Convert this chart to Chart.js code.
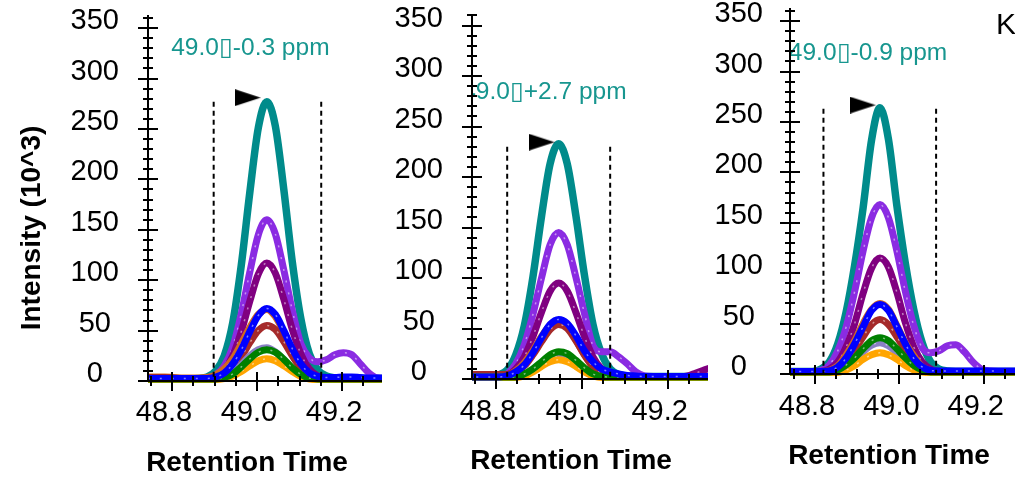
<!DOCTYPE html>
<html>
<head>
<meta charset="utf-8">
<script src="https://cdn.jsdelivr.net/npm/chart.js@4.4.1/dist/chart.umd.min.js"></script>
<style>
  html, body { margin: 0; background: #fff; overflow: hidden; }
  canvas { position: absolute; top: 0; }
</style>
</head>
<body>
<canvas id="panelA" width="382" height="479" style="left:0"></canvas>
<canvas id="panelB" width="326" height="479" style="left:382px"></canvas>
<canvas id="panelC" width="307" height="479" style="left:708px"></canvas>
<script>
// tick labels
const yMajor = [0, 50, 100, 150, 200, 250, 300, 350];
const xMajor = [48.8, 49.0, 49.2];
const yMinorStep = 10;
const xMinorStep = 0.05;

// series drawn top -> bottom
const seriesNames = ["blue", "green", "orange", "lavender", "brown", "chocolate", "darkPurple", "violet", "teal"];
const seriesColors = ["#0000ff", "#008000", "#ffa500", "#8a80c4", "#a52a2a", "#d2691e", "#800080", "#8a2be2", "#008b8b"];

// panel A
const rtA = [48.723, 48.743, 48.763, 48.783, 48.803, 48.823, 48.843, 48.863, 48.883, 48.903, 48.923, 48.943, 48.963, 48.983, 49.003, 49.023, 49.043, 49.063, 49.083, 49.103, 49.123, 49.143, 49.163, 49.183, 49.203, 49.223, 49.243, 49.263, 49.283, 49.303];
const tealA = [2, 2, 2, 2, 2, 2, 2, 2.5, 4, 10, 25, 58, 115, 187, 251, 277, 253, 190, 118, 62, 27, 11, 5, 3, 2.5, 2.5, 2.5, 2.5, 2.5, 2.5];
const violetA = [2, 2, 2, 2, 2, 2, 2, 2, 3, 6, 15, 34, 67, 108, 145, 160, 146, 110, 70, 37, 23, 19, 21, 26, 28, 26, 17, 8, 3, 2.5];
const darkPurpleA = [2, 2, 2, 2, 2, 2, 2, 2, 2.5, 5, 11, 25, 49, 79, 106, 117, 107, 81, 51, 27, 12, 5, 2.5, 2, 2, 2, 2, 2, 2, 2];
const chocolateA = [4, 4, 4, 4, 3.5, 3, 3, 3, 3.5, 6, 12, 22, 37, 53, 66, 71, 64, 48, 29, 15, 6, 3, 2.5, 2.5, 2.5, 2.5, 2.5, 2.5, 2.5, 2.5];
const brownA = [3.5, 3.5, 3.5, 3.5, 3, 2.5, 2, 2, 2.5, 3.5, 6, 12.5, 24, 38, 50, 55, 51, 39, 25, 13, 6, 3, 2, 2, 2, 2, 2, 2, 2, 2];
const lavenderA = [2, 2, 2, 2, 2, 2, 2, 2, 2, 2.5, 4.5, 9, 16, 25, 31, 33, 29, 21, 12, 6, 3, 2, 2, 2, 2, 2, 2, 2, 2, 2];
const greenA = [2, 2, 2, 2, 2, 2, 2, 2, 2, 2, 3.5, 7, 14, 22, 28.5, 31, 28.5, 21.5, 13, 6.5, 3, 2, 2, 2, 2, 2, 2, 2, 2, 2];
const orangeA = [1.5, 1.5, 1.5, 1.5, 1.5, 1.5, 1.5, 1.5, 1.5, 1.5, 2.5, 5, 9.5, 15, 20, 22, 20, 15, 9.5, 4.5, 2, 1.5, 1.5, 1.5, 1.5, 1.5, 1.5, 1.5, 1.5, 1.5];
const blueA = [2.5, 2.5, 2.5, 2.5, 2.5, 2.5, 2.5, 2.5, 2.5, 4, 8, 17, 31, 49, 65, 72, 66, 50, 32, 17, 8, 4.5, 3.5, 3.5, 4, 4, 3.5, 3, 3, 3];
const boundsA = [48.898, 49.151];
const apexA = [48.978, 281];
const ppmA = "49.0▯-0.3 ppm";

// panel B
const rtB = [48.726, 48.746, 48.766, 48.786, 48.806, 48.826, 48.846, 48.866, 48.886, 48.906, 48.926, 48.946, 48.966, 48.986, 49.006, 49.026, 49.046, 49.066, 49.086, 49.106, 49.126, 49.146, 49.166, 49.186, 49.206, 49.226, 49.246, 49.266, 49.286, 49.306];
const tealB = [2, 2, 2, 2, 4, 9, 24, 53, 101, 161, 213, 233, 213, 162, 103, 54, 25, 10, 4.5, 3, 2.5, 2.5, 2.5, 2.5, 2.5, 2.5, 2.5, 2.5, 2.5, 2.5];
const violetB = [2, 2, 2, 2, 2, 5, 15, 34, 64, 100, 133, 145, 133, 101, 65, 33, 27, 27, 22, 15, 7, 3, 2.5, 2.5, 2.5, 2.5, 2.5, 2.5, 2.5, 2.5];
const darkPurpleB = [2, 2, 2, 2, 2, 3.5, 10, 22, 42, 66, 87, 95, 87, 66, 42, 22, 10, 4, 2.5, 2, 2, 2, 2, 2, 2, 2, 3, 6, 9, 12];
const chocolateB = [2.5, 2.5, 2.5, 2.5, 2.5, 3.5, 8, 16, 28, 42, 53, 57, 52, 39, 24, 12, 5, 3, 2.5, 2.5, 2.5, 2.5, 2.5, 2.5, 2.5, 2.5, 2.5, 2.5, 2.5, 2.5];
const brownB = [4.5, 4.5, 4.5, 4.5, 4.5, 4.5, 7, 13, 24, 37, 49, 54, 50, 38, 24, 12, 5.5, 3, 2, 2, 2, 2, 2, 2, 2, 2, 2, 2, 2, 2];
const lavenderB = [2, 2, 2, 2, 2, 2, 2, 4, 8.5, 14.5, 20, 22, 20, 14.5, 8.5, 4, 2, 2, 2, 2, 2, 2, 2, 2, 2, 2, 2, 2, 2, 2];
const greenB = [2, 2, 2, 2, 2, 2, 2, 5, 10, 17, 24, 27, 25, 18.5, 11, 5, 2.5, 2, 2, 2, 2, 2, 2, 2, 2, 2, 2, 2, 2, 2];
const orangeB = [1.5, 1.5, 1.5, 1.5, 1.5, 1.5, 1.5, 3, 7, 12.5, 17, 19, 17, 12.5, 7, 3, 1.5, 1.5, 1.5, 1.5, 1.5, 1.5, 1.5, 1.5, 1.5, 1.5, 1.5, 1.5, 1.5, 1.5];
const blueB = [2, 2, 2, 2, 2, 3, 7, 14, 26, 41, 54, 59, 55, 43, 28, 17, 10, 7, 5, 3.5, 3, 2.5, 2.5, 2.5, 2.5, 2.5, 2.5, 2.5, 2.5, 2.5];
const boundsB = [48.826, 49.066];
const apexB = [48.906, 234.5];
const ppmB = "49.0▯+2.7 ppm";

// panel C
const rtC = [48.734, 48.754, 48.774, 48.794, 48.814, 48.834, 48.854, 48.874, 48.894, 48.914, 48.934, 48.954, 48.974, 48.994, 49.014, 49.034, 49.054, 49.074, 49.094, 49.114, 49.134, 49.154, 49.174, 49.194, 49.214, 49.234, 49.254, 49.274, 49.294, 49.314];
const tealC = [2.5, 2.5, 2.5, 2.5, 5, 12, 30, 62, 108, 165, 232, 264, 233, 167, 110, 64, 31, 12, 5, 3, 2.5, 2.5, 2.5, 2.5, 2.5, 2.5, 2.5, 2.5, 2.5, 2.5];
const violetC = [2.5, 2.5, 2.5, 2.5, 3.5, 9, 23, 47, 82, 122, 155, 168, 155, 122, 82, 48, 26, 21, 23, 28, 29, 22, 12, 5, 3, 2.5, 2.5, 2.5, 2.5, 2.5];
const darkPurpleC = [2.5, 2.5, 2.5, 2.5, 2.5, 5, 12, 27, 50, 80, 105, 115, 106, 81, 51, 27, 12, 5, 2.5, 2.5, 2.5, 2.5, 2.5, 2.5, 2.5, 2.5, 2.5, 2.5, 2.5, 2.5];
const chocolateC = [2.5, 2.5, 2.5, 2.5, 2.5, 3.5, 8, 19, 33, 50, 64, 70, 64, 48, 31, 18, 7, 3.5, 2.5, 2.5, 2.5, 2.5, 2.5, 2.5, 2.5, 2.5, 2.5, 2.5, 2.5, 2.5];
const brownC = [2, 2, 2, 2, 2, 3, 6, 13, 24, 37, 49, 54, 49, 37, 24, 13, 6, 3, 2, 2, 2, 2, 2, 2, 2, 2, 2, 2, 2, 2];
const lavenderC = [2, 2, 2, 2, 2, 2, 3.5, 7.5, 14, 22, 28.5, 31, 28, 21, 13, 6.5, 3, 2, 2, 2, 2, 2, 2, 2, 2, 2, 2, 2, 2, 2];
const greenC = [2, 2, 2, 2, 2, 2, 4, 9, 16, 25, 33, 36, 33, 25, 16, 8.5, 4, 2, 2, 2, 2, 2, 2, 2, 2, 2, 2, 2, 2, 2];
const orangeC = [1.5, 1.5, 1.5, 1.5, 1.5, 1.5, 1.5, 4, 8.5, 14.5, 19, 21, 19, 14.5, 8.5, 4, 2, 1.5, 1.5, 1.5, 1.5, 1.5, 1.5, 1.5, 1.5, 1.5, 1.5, 1.5, 1.5, 1.5];
const blueC = [2.5, 2.5, 2.5, 2.5, 2.5, 3, 7, 16, 30, 47, 63, 69, 63, 47, 30, 15.5, 7, 3.5, 3, 3, 3, 3, 3, 3, 3, 3, 3, 3, 3, 3];
const boundsC = [48.820, 49.087];
const apexC = [48.913, 266.7];
const ppmC = "49.0▯-0.9 ppm";

const FONT = "'Liberation Sans', Arial, sans-serif";
const TEXT_TEAL = "#17968f";

// black peak marker, pointing right
function peakArrow() {
  const c = document.createElement("canvas");
  c.width = 26;
  c.height = 17;
  const g = c.getContext("2d");
  g.fillStyle = "#000";
  g.beginPath();
  g.moveTo(0, 0);
  g.lineTo(26, 8.5);
  g.lineTo(0, 17);
  g.closePath();
  g.fill();
  return c;
}
const arrowImg = peakArrow();

// axis lines with ticks crossing the axis (Skyline style)
const crossAxes = {
  id: "crossAxes",
  afterDatasetsDraw(chart) {
    const { ctx, chartArea: a, scales: { x, y } } = chart;
    ctx.save();
    ctx.strokeStyle = "#000";
    ctx.lineWidth = 2;
    ctx.beginPath();
    ctx.moveTo(a.left, a.top);
    ctx.lineTo(a.left, a.bottom);
    ctx.lineTo(a.right, a.bottom);
    for (let v = 0; v <= y.max; v += yMinorStep) {
      const py = Math.round(y.getPixelForValue(v));
      const len = yMajor.includes(v) ? 10 : 5;
      ctx.moveTo(a.left - len, py);
      ctx.lineTo(a.left + len, py);
    }
    const first = Math.ceil(x.min / xMinorStep - 1e-9);
    const last = Math.floor(x.max / xMinorStep + 1e-9);
    for (let i = first; i <= last; i++) {
      const v = i * xMinorStep;
      const px = Math.round(x.getPixelForValue(v));
      const major = xMajor.some(m => Math.abs(m - v) < 1e-6);
      ctx.moveTo(px, a.bottom + (major ? 10 : 5));
      ctx.lineTo(px, a.bottom - (major ? 9 : 5));
    }
    ctx.stroke();
    ctx.restore();
  }
};

// annotation + axis titles
const panelText = {
  id: "panelText",
  afterDatasetsDraw(chart, args, opts) {
    const { ctx, chartArea: a, scales: { x, y } } = chart;
    ctx.save();
    ctx.beginPath();
    ctx.rect(a.left, 0, a.right - a.left, a.bottom);
    ctx.clip();
    ctx.fillStyle = TEXT_TEAL;
    ctx.font = `24.5px ${FONT}`;
    ctx.textAlign = "left";
    ctx.textBaseline = "middle";
    ctx.fillText(opts.ppm, x.getPixelForValue(opts.ppmAt[0]), y.getPixelForValue(opts.ppmAt[1]));
    ctx.restore();

    ctx.save();
    ctx.fillStyle = "#000";
    ctx.font = `bold 28px ${FONT}`;
    ctx.textAlign = "center";
    ctx.textBaseline = "middle";
    ctx.fillText("Retention Time", a.left + 99, a.bottom + 82);
    if (opts.yTitle) {
      ctx.translate(opts.yTitleAt[0], opts.yTitleAt[1]);
      ctx.rotate(-Math.PI / 2);
      ctx.fillText(opts.yTitle, 0, 0);
    }
    ctx.restore();

    if (opts.corner) {
      ctx.save();
      ctx.fillStyle = "#000";
      ctx.font = `30px ${FONT}`;
      ctx.textAlign = "left";
      ctx.textBaseline = "alphabetic";
      ctx.fillText(opts.corner, opts.cornerAt[0], opts.cornerAt[1]);
      ctx.restore();
    }
  }
};

function drawPanel(p) {
  const datasets = [];
  datasets.push({
    data: [{ x: p.apex[0], y: p.apex[1] }],
    showLine: false,
    pointStyle: arrowImg,
    pointRadius: 10
  });
  p.bounds.forEach(b => {
    datasets.push({
      data: [{ x: b, y: p.boundTop }, { x: b, y: 0 }],
      borderColor: "#000",
      borderWidth: 2,
      borderDash: [5, 4],
      pointRadius: 0
    });
  });
  seriesNames.forEach((name, i) => {
    const pts = p.rt.map((t, k) => ({ x: t, y: p.series[name][k] }));
    if (name !== "teal") {
      // the small white specks along the traces
      datasets.push({
        data: pts,
        borderColor: "rgba(255,255,255,0.5)",
        borderWidth: 1.5,
        borderDash: [2, 10],
        pointRadius: 0,
        cubicInterpolationMode: "monotone",
        clip: { left: 0, top: 10, right: 0, bottom: 5 }
      });
    }
    datasets.push({
      data: pts,
      borderColor: seriesColors[i],
      borderWidth: name === "teal" ? 7.5 : 7,
      pointRadius: 0,
      cubicInterpolationMode: "monotone",
      clip: { left: 0, top: 10, right: 0, bottom: 5 }
    });
  });

  new Chart(document.getElementById(p.id), {
    type: "line",
    data: { datasets },
    options: {
      responsive: false,
      animation: false,
      devicePixelRatio: 1,
      events: [],
      layout: { autoPadding: false, padding: { left: 0, right: 0, top: p.top, bottom: 0 } },
      plugins: {
        legend: { display: false },
        tooltip: { enabled: false },
        panelText: { ppm: p.ppm, ppmAt: p.ppmAt, yTitle: p.yTitle, yTitleAt: p.yTitleAt, corner: p.corner, cornerAt: p.cornerAt }
      },
      scales: {
        x: {
          type: "linear",
          min: p.xRange[0],
          max: p.xRange[1],
          grid: { display: false, drawTicks: false },
          border: { display: false },
          afterBuildTicks: s => { s.ticks = xMajor.map(v => ({ value: v })); },
          afterFit: s => {
            s.height = p.xAxisHeight;
            s.paddingLeft = s.paddingRight = 0;
          },
          ticks: {
            autoSkip: false,
            maxRotation: 0,
            padding: p.xPad,
            labelOffset: -8,
            color: "#000",
            font: { family: FONT, size: 29 },
            callback: v => v.toFixed(1)
          }
        },
        y: {
          type: "linear",
          min: 0,
          max: p.yMax,
          grid: { display: false, drawTicks: false },
          border: { display: false },
          afterBuildTicks: s => { s.ticks = yMajor.map(v => ({ value: v })); },
          afterFit: s => {
            s.width = p.yAxisWidth;
            s.paddingTop = s.paddingBottom = 0;
          },
          ticks: {
            autoSkip: false,
            padding: p.yPad,
            crossAlign: "center",
            labelOffset: -7,
            color: "#000",
            font: { family: FONT, size: 29 },
            callback: v => String(v)
          }
        }
      }
    },
    plugins: [panelText, crossAxes]
  });
}

drawPanel({
  id: "panelA", rt: rtA,
  series: { teal: tealA, violet: violetA, darkPurple: darkPurpleA, chocolate: chocolateA, brown: brownA, lavender: lavenderA, green: greenA, orange: orangeA, blue: blueA },
  bounds: boundsA, boundTop: 277, apex: apexA,
  ppm: ppmA, ppmAt: [48.798, 330],
  yTitle: "Intensity (10^3)", yTitleAt: [32, 228],
  xRange: [48.7435, 49.294], yMax: 363,
  top: 15, xAxisHeight: 98, yAxisWidth: 148, xPad: 15, yPad: 29
});

drawPanel({
  id: "panelB", rt: rtB,
  series: { teal: tealB, violet: violetB, darkPurple: darkPurpleB, chocolate: chocolateB, brown: brownB, lavender: lavenderB, green: greenB, orange: orangeB, blue: blueB },
  bounds: boundsB, boundTop: 230, apex: apexB,
  ppm: ppmB, ppmAt: [48.721, 283.5],
  xRange: [48.744, 49.294], yMax: 361.4,
  top: 14, xAxisHeight: 100, yAxisWidth: 90, xPad: 16, yPad: 29
});

drawPanel({
  id: "panelC", rt: rtC,
  series: { teal: tealC, violet: violetC, darkPurple: darkPurpleC, chocolate: chocolateC, brown: brownC, lavender: lavenderC, green: greenC, orange: orangeC, blue: blueC },
  bounds: boundsC, boundTop: 263, apex: apexC,
  ppm: ppmC, ppmAt: [48.738, 318],
  corner: "K", cornerAt: [288, 34],
  xRange: [48.7407, 49.274], yMax: 363,
  top: 8, xAxisHeight: 105, yAxisWidth: 82, xPad: 16, yPad: 27
});
</script>
</body>
</html>
